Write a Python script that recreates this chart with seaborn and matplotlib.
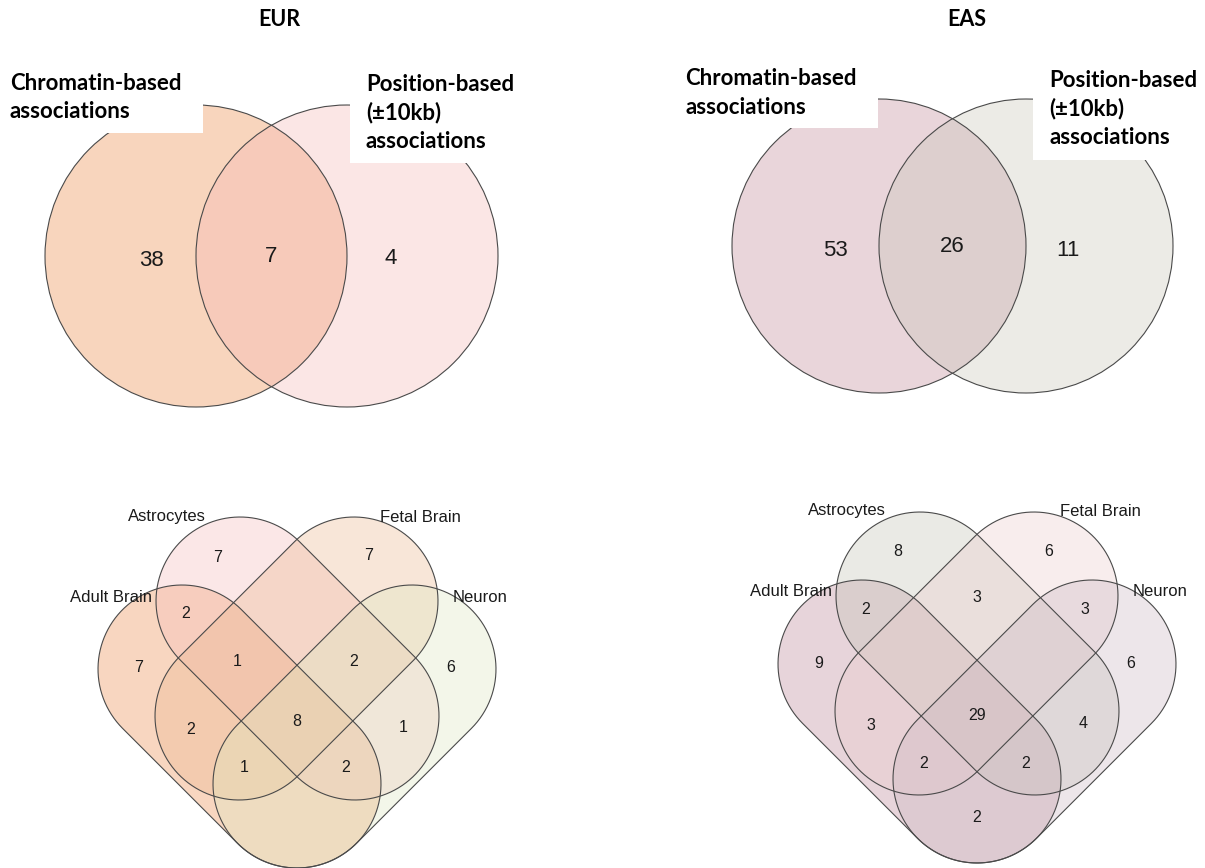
import numpy as np
import matplotlib
matplotlib.use("Agg")
import matplotlib.pyplot as plt
from matplotlib.patches import Circle, Polygon, Rectangle
import seaborn as sns

sns.set_theme(style="white")

# ---- data ----
populations = ["EUR", "EAS"]
pair_sets = ["Chromatin-based\nassociations", "Position-based\n(\u00b110kb)\nassociations"]
# left only, overlap, right only
pair_eur = [38, 7, 4]
pair_eas = [53, 26, 11]

tissues = ["Adult Brain", "Astrocytes", "Fetal Brain", "Neuron"]
# region keys: D=Adult Brain, A=Astrocytes, F=Fetal Brain, N=Neuron (exclusive regions)
regions = ["A", "F", "AF", "DA", "FN", "D", "N", "DAF", "AFN", "DF", "DAFN", "AN", "DFN", "DAN", "DN"]
quad_eur = [7, 7, 0, 2, 0, 7, 6, 1, 2, 2, 8, 1, 1, 2, 0]
quad_eas = [8, 6, 3, 2, 3, 9, 6, 0, 0, 3, 29, 4, 2, 2, 2]

pair_colors = {"EUR": ["#EB8742", "#F6B8B5"], "EAS": ["#C08795", "#C9C6BA"]}
quad_colors = {"EUR": ["#EB8C4B", "#F6BDBD", "#EBB890", "#DDE8C0"],
               "EAS": ["#BD8495", "#C3C3B5", "#EBCCCC", "#CCB8C3"]}

# ---- layout (pixel units) ----
W, H = 1205, 868
ALPHA = 0.35
EDGE = "#4a4a4a"
pair_geom = {"EUR": dict(c1=(196, 256), c2=(347, 256), r=151, title=(279, 19),
                         nums=[(151, 260), (271, 257), (391, 259)],
                         lab1=(10, 90), lab2=(366, 91),
                         box1=(0, 55, 203, 133), box2=(350, 60, 540, 163)),
             "EAS": dict(c1=(879, 246), c2=(1026, 246), r=147, title=(967, 19),
                         nums=[(835, 250), (952, 247), (1068, 250)],
                         lab1=(685, 85), lab2=(1049, 87),
                         box1=(675, 55, 878, 128), box2=(1033, 60, 1205, 160))}
quad_center = {"EUR": (297, 720), "EAS": (977, 715)}
# stadium shapes relative to diagram centre: (cx, cy, angle)
stadiums = {"Adult Brain": (-57.5, 6.5, 45), "Astrocytes": (0.5, -61.5, 45),
            "Fetal Brain": (-0.5, -61.5, 135), "Neuron": (57.5, 6.5, 135)}
HALF, RAD = 81.3, 84
label_pos = {"Adult Brain": (-186, -123), "Astrocytes": (-130, -204),
             "Fetal Brain": (123, -203), "Neuron": (183, -123)}
region_pos = {"A": (-79, -163), "F": (72, -164), "AF": (0, -117), "DA": (-111, -106),
              "FN": (108, -106), "D": (-158, -52), "N": (154, -52), "DAF": (-60, -58),
              "AFN": (57, -58), "DF": (-106, 10), "DAFN": (0, 1), "AN": (106, 8),
              "DFN": (-53, 48), "DAN": (49, 48), "DN": (0, 103)}

BOLD = ["Lato", "DejaVu Sans"]
ARIAL = ["Liberation Sans", "DejaVu Sans"]


def stadium(cx, cy, h, r, ang):
    a = np.deg2rad(ang)
    u = np.array([np.cos(a), np.sin(a)])
    c = np.array([cx, cy])
    t1 = np.linspace(a - np.pi / 2, a + np.pi / 2, 60)
    t2 = np.linspace(a + np.pi / 2, a + 3 * np.pi / 2, 60)
    p1 = c + h * u + r * np.c_[np.cos(t1), np.sin(t1)]
    p2 = c - h * u + r * np.c_[np.cos(t2), np.sin(t2)]
    return np.vstack([p1, p2])


fig = plt.figure(figsize=(W / 100, H / 100), dpi=100)
ax = fig.add_axes([0, 0, 1, 1])
ax.set_xlim(0, W)
ax.set_ylim(H, 0)
ax.axis("off")

# ---- two-set diagrams ----
for pop, counts in zip(populations, [pair_eur, pair_eas]):
    g = pair_geom[pop]
    for c, col in zip([g["c1"], g["c2"]], pair_colors[pop]):
        ax.add_patch(Circle(c, g["r"], facecolor=col, alpha=ALPHA, edgecolor="none", zorder=1))
        ax.add_patch(Circle(c, g["r"], facecolor="none", edgecolor=EDGE, lw=0.8, zorder=2))
    for (x, y), n in zip(g["nums"], counts):
        ax.text(x, y, str(n), ha="center", va="center", fontsize=16, family=ARIAL,
                color="#1a1a1a", zorder=3)
    for (x0, y0, x1, y1) in [g["box1"], g["box2"]]:
        ax.add_patch(Rectangle((x0, y0), x1 - x0, y1 - y0, facecolor="white",
                               edgecolor="none", zorder=4))
    for (x, y), lab in zip([g["lab1"], g["lab2"]], pair_sets):
        for i, line in enumerate(lab.split("\n")):
            ax.text(x, y + i * 28.5, line, ha="left", va="baseline", fontsize=16,
                    fontweight="bold", family=BOLD, color="black", zorder=5)
    ax.text(*g["title"], pop, ha="center", va="center", fontsize=15.5,
            fontweight="bold", family=BOLD, color="black", zorder=5)

# ---- four-set diagrams ----
for pop, counts in zip(populations, [quad_eur, quad_eas]):
    cx0, cy0 = quad_center[pop]
    for t, col in zip(tissues, quad_colors[pop]):
        sx, sy, ang = stadiums[t]
        pts = stadium(cx0 + sx, cy0 + sy, HALF, RAD, ang)
        ax.add_patch(Polygon(pts, closed=True, facecolor=col, alpha=ALPHA,
                             edgecolor="none", zorder=1))
        ax.add_patch(Polygon(pts, closed=True, facecolor="none", edgecolor=EDGE,
                             lw=0.8, zorder=2))
        lx, ly = label_pos[t]
        ax.text(cx0 + lx, cy0 + ly, t, ha="center", va="center", fontsize=12,
                family=ARIAL, color="#1a1a1a", zorder=5)
    for key, n in zip(regions, counts):
        if n == 0:
            continue
        rx, ry = region_pos[key]
        ax.text(cx0 + rx, cy0 + ry, str(n), ha="center", va="center", fontsize=11.5,
                family=ARIAL, color="#1a1a1a", zorder=3)

fig.savefig("out.png", dpi=100, facecolor="white")
